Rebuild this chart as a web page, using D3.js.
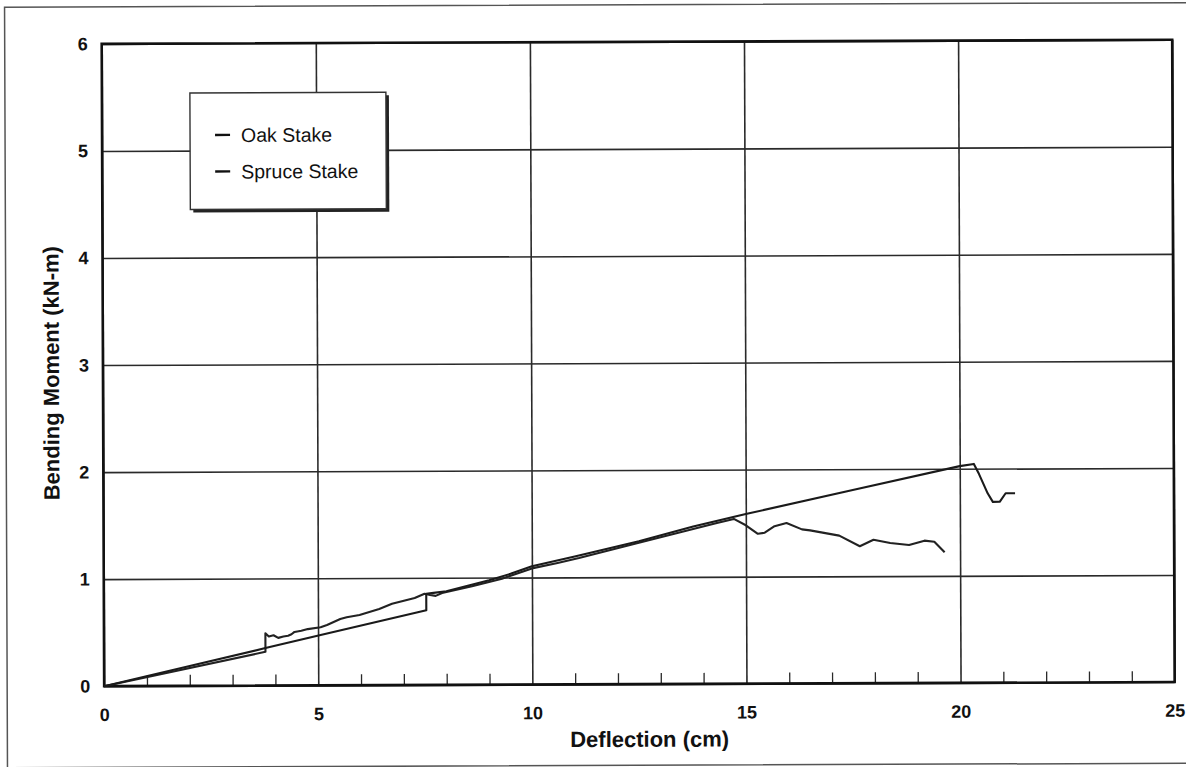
<!DOCTYPE html>
<html>
<head>
<meta charset="utf-8">
<script src="https://cdn.jsdelivr.net/npm/d3@7"></script>
<style>
  html, body { margin: 0; padding: 0; background: #fff; }
  svg { display: block; }
  text { font-family: "Liberation Sans", Arial, Helvetica, sans-serif; fill: #111; }
</style>
</head>
<body>
<svg id="chart" width="1186" height="767"></svg>
<script>
// ---- data -------------------------------------------------------------
const xTickValues = [0, 5, 10, 15, 20, 25];
const yTickValues = [0, 1, 2, 3, 4, 5, 6];
const seriesNames = ["Oak Stake", "Spruce Stake"];

// Oak stake: deflection (cm) vs bending moment (kN-m)
const oakDeflection = [0, 2.0, 3.77, 5.06, 7.53, 7.53, 7.7, 8.0, 8.5, 9.0, 9.5, 10.0,
  11.0, 12.5, 13.77, 15.0, 17.5, 20.0, 20.33, 20.45, 20.65, 20.77, 20.93, 21.07, 21.29];
const oakMoment = [0, 0.185, 0.35, 0.47, 0.697, 0.852, 0.86, 0.875, 0.925, 0.975, 1.035, 1.105,
  1.195, 1.335, 1.47, 1.585, 1.805, 2.025, 2.045, 1.95, 1.77, 1.69, 1.69, 1.77, 1.77];

// Spruce stake: deflection (cm) vs bending moment (kN-m)
const spruceDeflection = [0, 3.77, 3.77, 3.85, 3.96, 4.07, 4.19, 4.30, 4.38, 4.45, 4.61, 4.76,
  5.06, 5.21, 5.52, 5.67, 5.97, 6.43, 6.73, 7.03, 7.26, 7.49, 7.62, 7.75, 7.9, 8.6, 9.3, 10.0,
  10.6, 11.1, 12.5, 14.3, 14.72, 15.0, 15.28, 15.44, 15.67, 15.95, 16.31, 16.5, 17.18, 17.66,
  17.98, 18.37, 18.81, 19.17, 19.4, 19.64];
const spruceMoment = [0, 0.315, 0.489, 0.458, 0.47, 0.445, 0.458, 0.464, 0.478, 0.50, 0.51, 0.526,
  0.542, 0.563, 0.619, 0.635, 0.656, 0.712, 0.759, 0.79, 0.812, 0.852, 0.84, 0.832, 0.858, 0.92,
  0.99, 1.085, 1.135, 1.18, 1.32, 1.50, 1.54, 1.48, 1.40, 1.41, 1.47, 1.50, 1.44, 1.43, 1.38, 1.28,
  1.34, 1.31, 1.29, 1.33, 1.32, 1.22];

// ---- layout -----------------------------------------------------------
const W = 1186, H = 767;
const margin = { left: 103, right: 12.5, top: 42, bottom: 82.7 };
const plotW = W - margin.left - margin.right;
const plotH = H - margin.top - margin.bottom;

const svg = d3.select("#chart");
// the printed page sits very slightly askew
const page = svg.append("g").attr("transform", "rotate(-0.22 593 383)");

// page frame
page.append("rect")
  .attr("x", 6).attr("y", 5).attr("width", 1220).attr("height", 760.5)
  .attr("fill", "none").attr("stroke", "#555").attr("stroke-width", 1.5);

const x = d3.scaleLinear().domain([0, 25]).range([margin.left, W - margin.right]);
const y = d3.scaleLinear().domain([0, 6]).range([H - margin.bottom, margin.top]);

const tickFont = '"Liberation Sans", Arial, sans-serif';

// horizontal gridlines + y tick labels
const yAxis = page.append("g")
  .attr("transform", `translate(${margin.left},0)`)
  .call(d3.axisLeft(y).tickValues(yTickValues).tickSize(-plotW).tickPadding(14).tickFormat(d3.format("d")));
yAxis.select(".domain").remove();
yAxis.selectAll(".tick line").attr("stroke", "#2a2a2a").attr("stroke-width", 1.6);
yAxis.selectAll(".tick text")
  .attr("font-size", 18).attr("font-weight", "bold")
  .style("font-family", tickFont).attr("fill", "#111");

// vertical gridlines + x tick labels
const xAxis = page.append("g")
  .attr("transform", `translate(0,${H - margin.bottom})`)
  .call(d3.axisBottom(x).tickValues(xTickValues).tickSize(-plotH).tickPadding(22).tickFormat(d3.format("d")));
xAxis.select(".domain").remove();
xAxis.selectAll(".tick line").attr("stroke", "#2a2a2a").attr("stroke-width", 1.6);
xAxis.selectAll(".tick text")
  .attr("font-size", 18).attr("font-weight", "bold")
  .style("font-family", tickFont).attr("fill", "#111");

// minor ticks on the deflection axis, every 1 cm
const minor = d3.range(1, 25).filter(d => d % 5 !== 0);
const minorAxis = page.append("g")
  .attr("transform", `translate(0,${H - margin.bottom})`)
  .call(d3.axisBottom(x).tickValues(minor).tickSize(-11).tickFormat(""));
minorAxis.select(".domain").remove();
minorAxis.selectAll(".tick line").attr("stroke", "#2a2a2a").attr("stroke-width", 1.3);

// plot border
page.append("rect")
  .attr("x", margin.left).attr("y", margin.top)
  .attr("width", plotW).attr("height", plotH)
  .attr("fill", "none").attr("stroke", "#111").attr("stroke-width", 2.6);

// data lines
const line = d3.line().x(d => x(d[0])).y(d => y(d[1]));
const oak = oakDeflection.map((d, i) => [d, oakMoment[i]]);
const spruce = spruceDeflection.map((d, i) => [d, spruceMoment[i]]);

page.append("path").datum(spruce)
  .attr("d", line).attr("fill", "none").attr("stroke", "#222")
  .attr("stroke-width", 2.1).attr("stroke-linejoin", "round");
page.append("path").datum(oak)
  .attr("d", line).attr("fill", "none").attr("stroke", "#1a1a1a")
  .attr("stroke-width", 2.1).attr("stroke-linejoin", "round");

// axis titles
page.append("text")
  .attr("x", (x(0) + x(25)) / 2 + 10).attr("y", 747)
  .attr("text-anchor", "middle").attr("font-size", 22).attr("font-weight", "bold")
  .text("Deflection (cm)");

page.append("text")
  .attr("transform", `translate(59,${(y(0) + y(6)) / 2 + 8}) rotate(-90)`)
  .attr("text-anchor", "middle").attr("font-size", 22).attr("font-weight", "bold")
  .text("Bending Moment (kN-m)");

// legend with drop shadow
const lg = { x: 191, y: 91.5, w: 196, h: 116.5 };
const legend = page.append("g");
legend.append("rect")
  .attr("x", lg.x + 3).attr("y", lg.y + 3).attr("width", lg.w).attr("height", lg.h)
  .attr("fill", "#222");
legend.append("rect")
  .attr("x", lg.x).attr("y", lg.y).attr("width", lg.w).attr("height", lg.h)
  .attr("fill", "#fff").attr("stroke", "#333").attr("stroke-width", 1.4);

const items = legend.selectAll("g.item").data(seriesNames).join("g")
  .attr("class", "item")
  .attr("transform", (d, i) => `translate(${lg.x}, ${lg.y + 42 + i * 36.5})`);
items.append("line")
  .attr("x1", 25).attr("x2", 40).attr("y1", 0).attr("y2", 0)
  .attr("stroke", "#111").attr("stroke-width", 2.4);
items.append("text")
  .attr("x", 51).attr("y", 0).attr("dy", "0.36em")
  .attr("font-size", 19.5)
  .text(d => d);
</script>
</body>
</html>
